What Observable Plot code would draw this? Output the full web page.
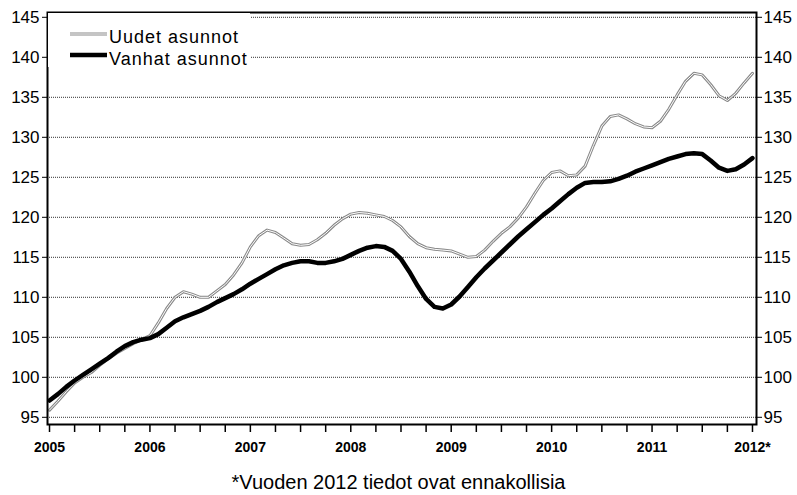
<!DOCTYPE html>
<html>
<head>
<meta charset="utf-8">
<script src="https://cdn.jsdelivr.net/npm/d3@7"></script>
<script src="https://cdn.jsdelivr.net/npm/@observablehq/plot@0.6"></script>
<style>
  html, body { margin: 0; padding: 0; background: white; }
  #wrap { position: relative; width: 797px; }
  #wrap svg { display: block; }
  #caption { font-family: "Liberation Sans", Arial, sans-serif; font-size: 20px; line-height: 24px; text-align: center; margin-top: 10px; color: #000; width: 797px; }
</style>
</head>
<body>
<div id="wrap"></div>
<div id="caption"></div>
<script>
const years = [2005, 2006, 2007, 2008, 2009, 2010, 2011, 2012];
const yearLabels = ["2005", "2006", "2007", "2008", "2009", "2010", "2011", "2012*"];
const seriesNames = ["Uudet asunnot", "Vanhat asunnot"];
const captionText = "*Vuoden 2012 tiedot ovat ennakollisia";
const yTicks = [95, 100, 105, 110, 115, 120, 125, 130, 135, 140, 145];

// monthly values, Jan 2005 .. Jan 2012
const uudetValues = [
  95.9, 97.0, 98.2, 99.3, 100.0, 100.6, 101.5, 102.3, 103.0, 103.6, 104.2, 104.7,
  105.2, 106.8, 108.6, 110.0, 110.7, 110.4, 110.0, 110.0, 110.8, 111.6, 112.8, 114.3,
  116.3, 117.7, 118.4, 118.1, 117.4, 116.7, 116.5, 116.6, 117.2, 118.0, 119.0, 119.8,
  120.4, 120.6, 120.5, 120.3, 120.1, 119.6, 118.8, 117.6, 116.7, 116.2, 116.0, 115.9,
  115.8, 115.4, 115.0, 115.1, 115.9, 117.0, 118.0, 118.8, 119.9, 121.3, 123.0, 124.6,
  125.6, 125.8, 125.2, 125.3, 126.4, 129.0, 131.4, 132.6, 132.8, 132.3, 131.7, 131.3,
  131.2, 132.0, 133.5, 135.3, 137.0, 138.0, 137.8, 136.6, 135.2, 134.6, 135.5, 136.8,
  138.0
];
const vanhatValues = [
  97.1, 97.9, 98.8, 99.6, 100.3, 101.0, 101.7, 102.4, 103.2, 103.9, 104.4, 104.7,
  104.9, 105.4, 106.2, 107.0, 107.5, 107.9, 108.3, 108.8, 109.4, 109.9, 110.4, 111.0,
  111.7, 112.3, 112.9, 113.5, 114.0, 114.3, 114.5, 114.5, 114.3, 114.3, 114.5, 114.8,
  115.3, 115.8, 116.2, 116.4, 116.3, 115.8, 114.8, 113.2, 111.4, 109.8, 108.8, 108.6,
  109.1, 110.1, 111.3, 112.5, 113.6, 114.6, 115.6, 116.6, 117.6, 118.5, 119.4, 120.3,
  121.1, 122.0, 122.9, 123.7, 124.3, 124.4, 124.4, 124.5, 124.8, 125.2, 125.7, 126.1,
  126.5, 126.9, 127.3, 127.6, 127.9, 128.0, 127.9, 127.1, 126.2, 125.8, 126.0, 126.6,
  127.4
];

const startYear = 2005;
const toRows = (vals) => vals.map((v, i) => ({t: startYear + i / 12, v}));
const uudet = toRows(uudetValues);
const vanhat = toRows(vanhatValues);

const quarterTicks = d3.range(0, (2012 - 2005) * 4 + 1).map(k => 2005 + k * 0.25);
const fmtX = d => {
  const i = years.indexOf(d);
  return i >= 0 ? yearLabels[i] : "";
};

const font = "'Liberation Sans', Arial, sans-serif";

const chart = Plot.plot({
  width: 797,
  height: 460,
  marginLeft: 47,
  marginRight: 41,
  marginTop: 12,
  marginBottom: 36,
  style: {fontFamily: font, background: "white", color: "black"},
  x: {domain: [2004.98, 2012.04]},
  y: {domain: [94.1, 145.6]},
  marks: [
    Plot.ruleY(yTicks, {stroke: "#333", strokeWidth: 1, strokeDasharray: "1,1"}),
    Plot.line(uudet, {x: "t", y: "v", stroke: "#8a8a8a", strokeWidth: 3}),
    Plot.line(uudet, {x: "t", y: "v", stroke: "white", strokeWidth: 1}),
    Plot.line(vanhat, {x: "t", y: "v", stroke: "black", strokeWidth: 4.5}),
    Plot.frame({stroke: "black", strokeWidth: 2}),
    Plot.axisY({anchor: "left", ticks: yTicks, tickSize: 5, tickPadding: 3, fontSize: 17, label: null, tickFormat: d => String(d)}),
    Plot.axisY({anchor: "right", ticks: yTicks, tickSize: 5, tickPadding: 2, fontSize: 17, label: null, tickFormat: d => String(d)}),
    Plot.axisX({anchor: "bottom", ticks: quarterTicks, tickFormat: fmtX, tickSize: 8, tickPadding: 10, fontSize: 14, fontWeight: "bold", label: null, strokeWidth: 1.5})
  ]
});

document.getElementById("wrap").appendChild(chart);

// in-plot legend (top-left, white box)
const svg = d3.select(chart);
const lg = svg.append("g").attr("font-family", font).attr("font-size", 18).attr("text-anchor", "start").attr("letter-spacing", "1px");
lg.append("rect").attr("x", 48).attr("y", 13).attr("width", 202).attr("height", 54).attr("fill", "white");
lg.append("line").attr("x1", 70).attr("x2", 107).attr("y1", 34).attr("y2", 34).attr("stroke", "#8a8a8a").attr("stroke-width", 3);
lg.append("line").attr("x1", 70).attr("x2", 107).attr("y1", 34).attr("y2", 34).attr("stroke", "white").attr("stroke-width", 1);
lg.append("line").attr("x1", 70).attr("x2", 107).attr("y1", 55).attr("y2", 55).attr("stroke", "black").attr("stroke-width", 4.5);
lg.append("text").attr("x", 109).attr("y", 43).attr("text-anchor", "start").text(seriesNames[0]);
lg.append("text").attr("x", 109).attr("y", 64.5).attr("text-anchor", "start").text(seriesNames[1]);

document.getElementById("caption").textContent = captionText;
</script>
</body>
</html>
